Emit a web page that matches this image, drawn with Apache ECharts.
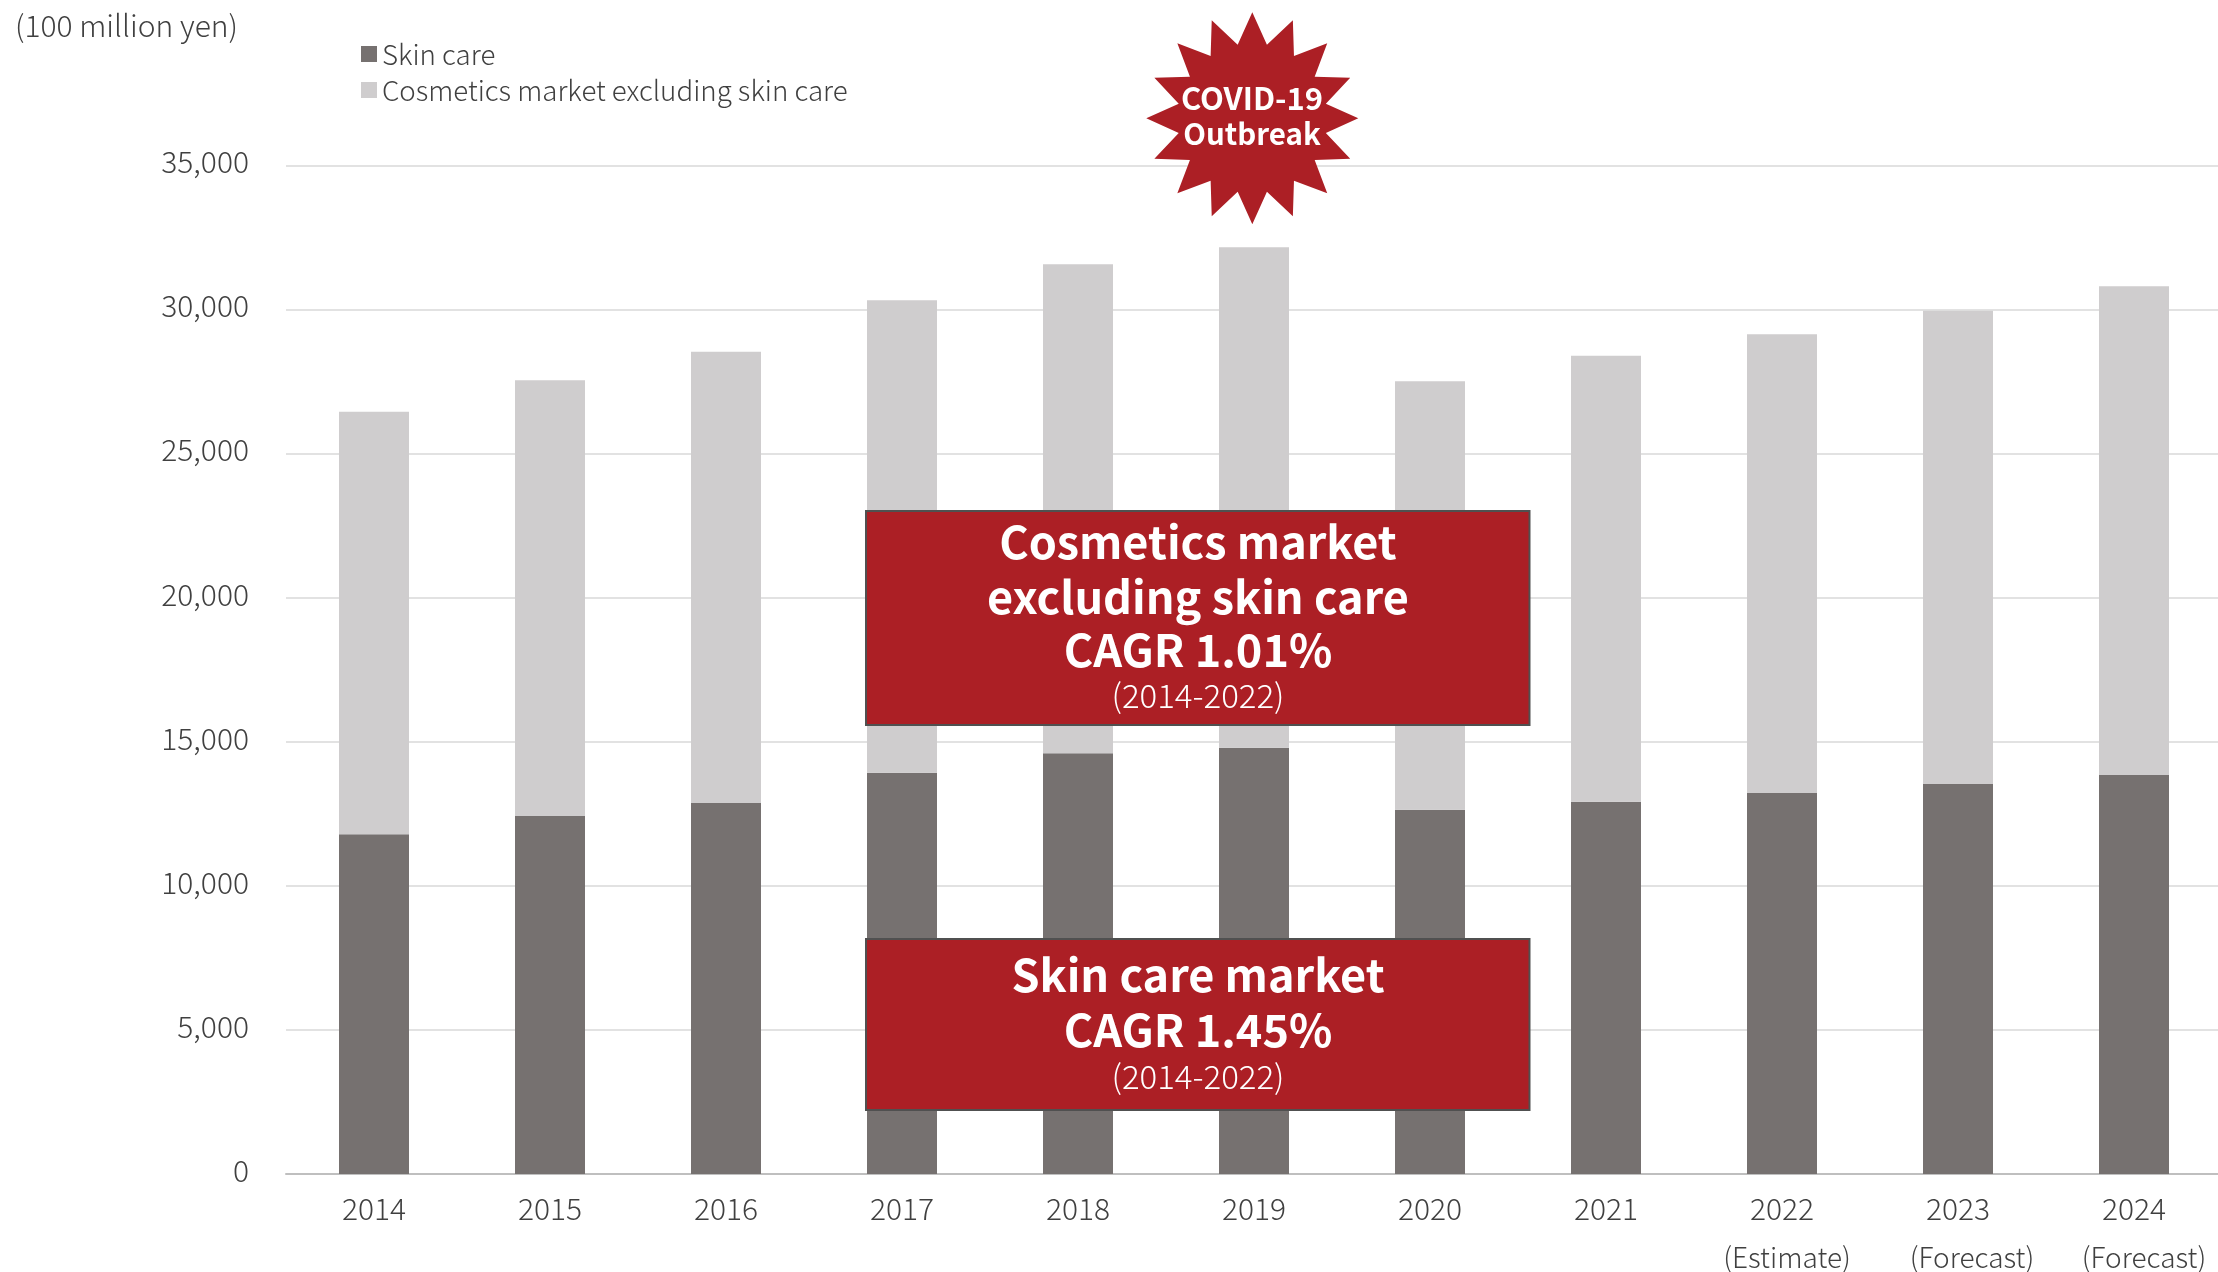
<!DOCTYPE html>
<html>
<head>
<meta charset="utf-8">
<title>Cosmetics market size</title>
<style>html,body{margin:0;padding:0;background:#fff;overflow:hidden}#chart{width:2218px;height:1272px}</style>
<script src="https://cdn.jsdelivr.net/npm/echarts@6/dist/echarts.min.js"></script>
</head>
<body>
<div id="chart"></div>
<script>
// Market values in units of 100 million yen
const years = ['2014','2015','2016','2017','2018','2019','2020','2021','2022','2023','2024'];
const skinCare = [11787,12423,12874,13925,14598,14793,12641,12919,13221,13533,13845];
const otherCosmetics = [14665,15118,15660,16392,16969,17363,14866,15476,15917,16424,16958];
const seriesNames = ['Skin care','Cosmetics market excluding skin care'];
const unitLabel = '(100 million yen)';
const yearNotes = [['(Estimate)',1787],['(Forecast)',1972],['(Forecast)',2144]];

const FONT = '"Noto Sans CJK JP","Noto Sans",sans-serif';
const RED = '#AC1F25', DARK = '#767170', LIGHT = '#CFCDCE', INK = '#404040', BORDER = '#505050';

// Sixteen-point burst behind the COVID-19 callout
function burst(cx, cy, outer, inner, spikes) {
  const pts = [];
  for (let i = 0; i < spikes * 2; i++) {
    const r = i % 2 ? inner : outer;
    const a = -Math.PI / 2 + i * Math.PI / spikes;
    pts.push([cx + r * Math.cos(a), cy + r * Math.sin(a)]);
  }
  return pts;
}

function centered(text, x, y, size, weight, fill) {
  return { type: 'text', z: 20, x, y,
    style: { text, fill: fill || '#fff', font: `${weight} ${size}px ${FONT}`, textAlign: 'center', textVerticalAlign: 'middle' } };
}

function callout(top, bottom, lines) {
  return [
    { type: 'rect', z: 10, shape: { x: 866, y: top, width: 663.5, height: bottom - top },
      style: { fill: RED, stroke: BORDER, lineWidth: 2 } },
    ...lines.map(l => centered(l[0], 1198, l[1], l[2], l[3]))
  ];
}

const chart = echarts.init(document.getElementById('chart'), null, { renderer: 'canvas' });
chart.setOption({
  animation: false,
  backgroundColor: '#fff',
  textStyle: { fontFamily: FONT },
  legend: {
    left: 356, top: 31, orient: 'vertical', itemWidth: 16, itemHeight: 16, itemGap: 0,
    icon: 'rect', data: seriesNames,
    textStyle: { fontFamily: FONT, fontSize: 27.7, lineHeight: 36, color: INK, fontWeight: 300 }
  },
  // The last category runs just past the right edge of the page
  grid: { left: 286, top: 165.3, width: 1936, height: 1008.7, outerBoundsMode: 'none' },
  xAxis: {
    type: 'category', data: years,
    axisTick: { show: false },
    axisLine: { lineStyle: { color: '#BFBFBF', width: 2 } },
    axisLabel: { color: INK, fontSize: 30, fontWeight: 300, margin: 20, fontFamily: FONT }
  },
  yAxis: {
    type: 'value', min: 0, max: 35000, interval: 5000,
    axisLine: { show: false }, axisTick: { show: false },
    splitLine: { lineStyle: { color: '#E2E2E2', width: 2 } },
    axisLabel: { color: INK, fontSize: 30, fontWeight: 300, margin: 37, verticalAlign: 'bottom', lineHeight: 7, fontFamily: FONT,
      formatter: v => v.toLocaleString('en-US') }
  },
  series: [
    { name: seriesNames[0], type: 'bar', stack: 'total', barWidth: 70, data: skinCare, itemStyle: { color: DARK } },
    { name: seriesNames[1], type: 'bar', stack: 'total', barWidth: 70, data: otherCosmetics, itemStyle: { color: LIGHT } }
  ],
  graphic: [
    { type: 'text', x: 15, y: 26, style: { text: unitLabel, fill: INK, font: `300 30px ${FONT}`, textVerticalAlign: 'middle' } },
    ...yearNotes.map(n => centered(n[0], n[1], 1257, 28, 300, INK)),
    { type: 'polygon', z: 10, shape: { points: burst(1252.3, 118.3, 106, 75, 16) }, style: { fill: RED } },
    centered('COVID-19', 1252, 98, 31, 700),
    centered('Outbreak', 1252, 134, 29.5, 700),
    ...callout(511, 725, [
      ['Cosmetics market', 542, 45, 700],
      ['excluding skin care', 597, 45, 700],
      ['CAGR 1.01%', 650, 45, 700],
      ['(2014-2022)', 695, 33, 300]
    ]),
    ...callout(939, 1110, [
      ['Skin care market', 975, 45, 700],
      ['CAGR 1.45%', 1030, 45, 700],
      ['(2014-2022)', 1076, 33, 300]
    ])
  ]
});
</script>
</body>
</html>
